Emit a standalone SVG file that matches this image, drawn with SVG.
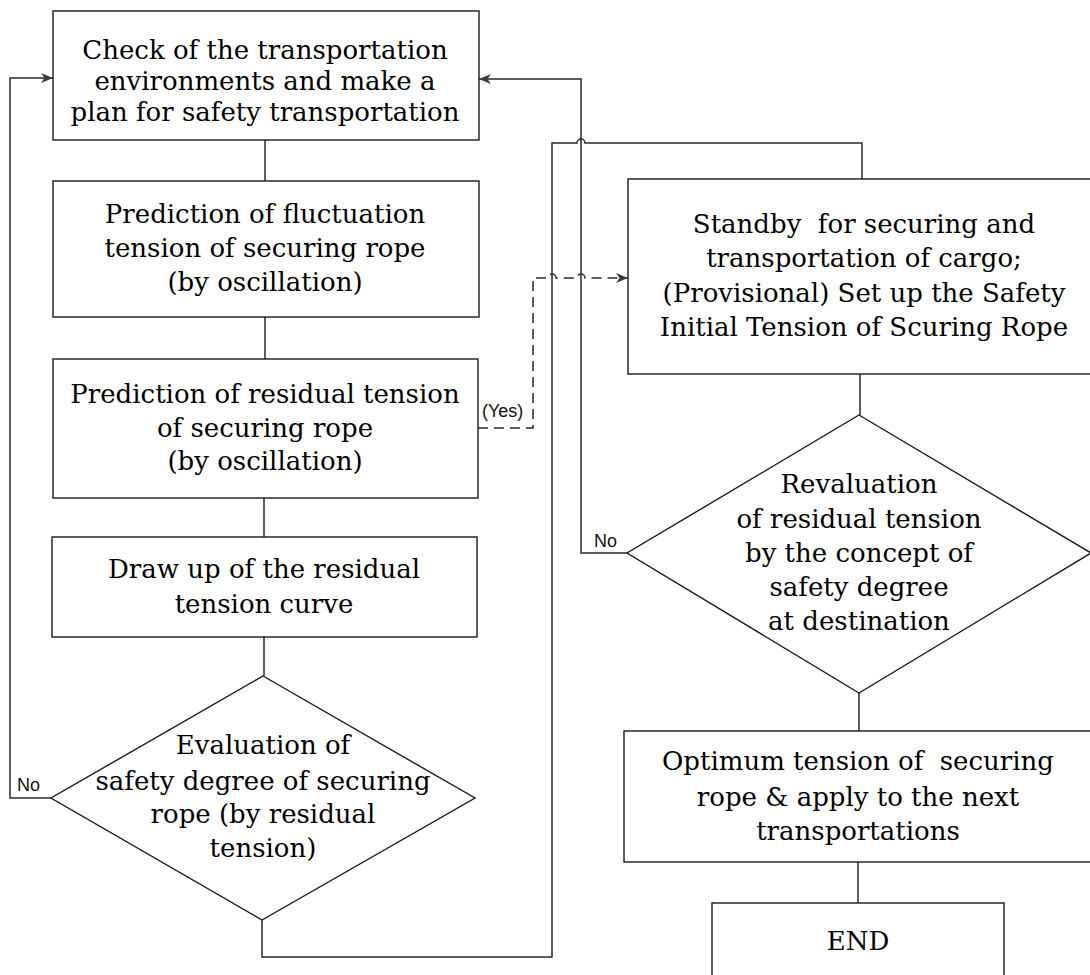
<svg xmlns="http://www.w3.org/2000/svg" width="1090" height="975" viewBox="0 0 1090 975">
  <style>
    .shape { fill: #ffffff; stroke: #1a1a1a; stroke-width: 1.4; }
    .link { fill: none; stroke: #2a2a2a; stroke-width: 1.5; }
    .dash { stroke-dasharray: 10 6; }
    .label { font-family: "DejaVu Serif", "Liberation Serif", serif; font-size: 26px; fill: #000000; text-anchor: middle; }
    .tag { font-family: "Liberation Sans", Arial, sans-serif; font-size: 18px; fill: #111111; }
  </style>
  <defs>
    <marker id="arrow" markerUnits="userSpaceOnUse" markerWidth="13" markerHeight="10" refX="12" refY="5" orient="auto">
      <path d="M0,0 L12,5 L0,10 L3.5,5 z" fill="#3a3a3a"/>
    </marker>
  </defs>

  <rect width="1090" height="975" fill="#ffffff"/>

  <!-- connectors -->
  <g id="connectors">
    <path class="link" d="M265,140 V181"/>
    <path class="link" d="M265,317 V359"/>
    <path class="link" d="M264,498 V537"/>
    <path class="link" d="M264,637 V676"/>
    <path class="link" d="M860,374 V415"/>
    <path class="link" d="M859,693 V731"/>
    <path class="link" d="M858,862 V903"/>
    <!-- No: back to the planning step (left loop) -->
    <path class="link" d="M51,798 H10 V78 H53" marker-end="url(#arrow)"/>
    <!-- from evaluation to standby, hopping over the right loop -->
    <path class="link" d="M262,920 V957 H552 V143 H577 a4,4 0 0 1 8,0 H862 V179"/>
    <!-- No: revaluation back to the planning step -->
    <path class="link" d="M627,553 H581 V79 H479" marker-end="url(#arrow)"/>
    <!-- Yes (dashed) to standby -->
    <path class="link dash" d="M478,428 H533 V278 H548 a4,4 0 0 1 8,0 H577 a4,4 0 0 1 8,0 H628" marker-end="url(#arrow)"/>
    <text class="tag" x="482" y="417">(Yes)</text>
    <text class="tag" x="17" y="791">No</text>
    <text class="tag" x="594" y="547">No</text>
  </g>

  <g id="plan">
    <rect class="shape" x="53" y="11" width="426" height="129"/>
    <text class="label" x="265" y="59">Check of the transportation</text>
    <text class="label" x="265" y="90">environments and make a</text>
    <text class="label" x="265" y="121">plan for safety transportation</text>
  </g>

  <g id="fluctuation">
    <rect class="shape" x="53" y="181" width="426" height="136"/>
    <text class="label" x="265" y="223">Prediction of fluctuation</text>
    <text class="label" x="265" y="257">tension of securing rope</text>
    <text class="label" x="265" y="291">(by oscillation)</text>
  </g>

  <g id="residual">
    <rect class="shape" x="53" y="359" width="425" height="139"/>
    <text class="label" x="265" y="403">Prediction of residual tension</text>
    <text class="label" x="265" y="437">of securing rope</text>
    <text class="label" x="265" y="470">(by oscillation)</text>
  </g>

  <g id="curve">
    <rect class="shape" x="52" y="537" width="425" height="100"/>
    <text class="label" x="264" y="578">Draw up of the residual</text>
    <text class="label" x="264" y="613">tension curve</text>
  </g>

  <g id="evaluation">
    <polygon class="shape" points="263,676 475,798 262,920 51,798"/>
    <text class="label" x="263" y="754">Evaluation of</text>
    <text class="label" x="263" y="790">safety degree of securing</text>
    <text class="label" x="263" y="823">rope (by residual</text>
    <text class="label" x="263" y="857">tension)</text>
  </g>

  <g id="standby">
    <rect class="shape" x="628" y="179" width="468" height="195"/>
    <text class="label" x="864" y="233" xml:space="preserve">Standby  for securing and</text>
    <text class="label" x="864" y="267">transportation of cargo;</text>
    <text class="label" x="864" y="302">(Provisional) Set up the Safety</text>
    <text class="label" x="864" y="336">Initial Tension of Scuring Rope</text>
  </g>

  <g id="revaluation">
    <polygon class="shape" points="859,415 1091,553 859,693 627,553"/>
    <text class="label" x="859" y="493">Revaluation</text>
    <text class="label" x="859" y="528">of residual tension</text>
    <text class="label" x="859" y="562">by the concept of</text>
    <text class="label" x="859" y="596">safety degree</text>
    <text class="label" x="859" y="630">at destination</text>
  </g>

  <g id="optimum">
    <rect class="shape" x="624" y="731" width="468" height="131"/>
    <text class="label" x="858" y="770" xml:space="preserve">Optimum tension of  securing</text>
    <text class="label" x="858" y="806">rope &amp; apply to the next</text>
    <text class="label" x="858" y="840">transportations</text>
  </g>

  <g id="end">
    <rect class="shape" x="712" y="903" width="292" height="80"/>
    <text class="label" x="858" y="950">END</text>
  </g>
</svg>
